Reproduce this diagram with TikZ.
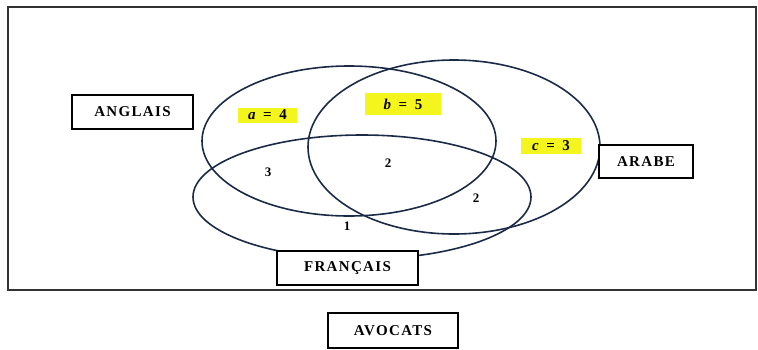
\documentclass[tikz,border=0pt]{standalone}
\usepackage{fontspec}
\setmainfont{Liberation Serif}
\begin{document}
\begin{tikzpicture}[x=1pt,y=-1pt,
  lbl/.style={draw=black,line width=1.1pt,fill=white,font=\bfseries\fontsize{15}{17}\selectfont\addfontfeature{LetterSpace=9}},
  venn/.style={draw=navyline,line width=1.6pt},
  hl/.style={fill=hly,inner sep=1pt,font=\bfseries\fontsize{15}{17}\selectfont},
  num/.style={font=\bfseries\fontsize{13}{15}\selectfont,inner sep=1pt}]
\definecolor{navyline}{HTML}{1B2A47}
\definecolor{hly}{HTML}{F5F51E}
\useasboundingbox (0,0) rectangle (758,349);
\draw[line width=1.6pt,draw=black!80] (8,7) rectangle (756,290);
% ellipses
\draw[venn] (349,141) ellipse [x radius=147pt, y radius=75pt];
\draw[venn] (454,147) ellipse [x radius=146pt, y radius=87pt];
\draw[venn] (362,197) ellipse [x radius=169pt, y radius=62pt];
% boxes
\node[lbl,minimum width=121pt,minimum height=34pt] (ang) at (132.5,112) {ANGLAIS};
\node[lbl,minimum width=94pt,minimum height=33pt] (ara) at (646,161.5) {ARABE};
\node[lbl,minimum width=141pt,minimum height=34pt] (fra) at (347.5,268) {FRANÇAIS};
\node[lbl,minimum width=130pt,minimum height=35pt] (avo) at (393,330.5) {AVOCATS};
% values
\node[hl,minimum width=59pt,minimum height=15pt] (a) at (267.5,115) {\textit{a}\enspace=\enspace4};
\node[hl,minimum width=76pt,minimum height=22pt] (b) at (403,104) {\textit{b}\enspace=\enspace5};
\node[hl,minimum width=60pt,minimum height=16pt] (c) at (551,146) {\textit{c}\enspace=\enspace3};
\node[num] (n3) at (268,172) {3};
\node[num] (n2) at (388,163) {2};
\node[num] (n2b) at (476,198) {2};
\node[num] (n1) at (347,226) {1};
\end{tikzpicture}
\end{document}
